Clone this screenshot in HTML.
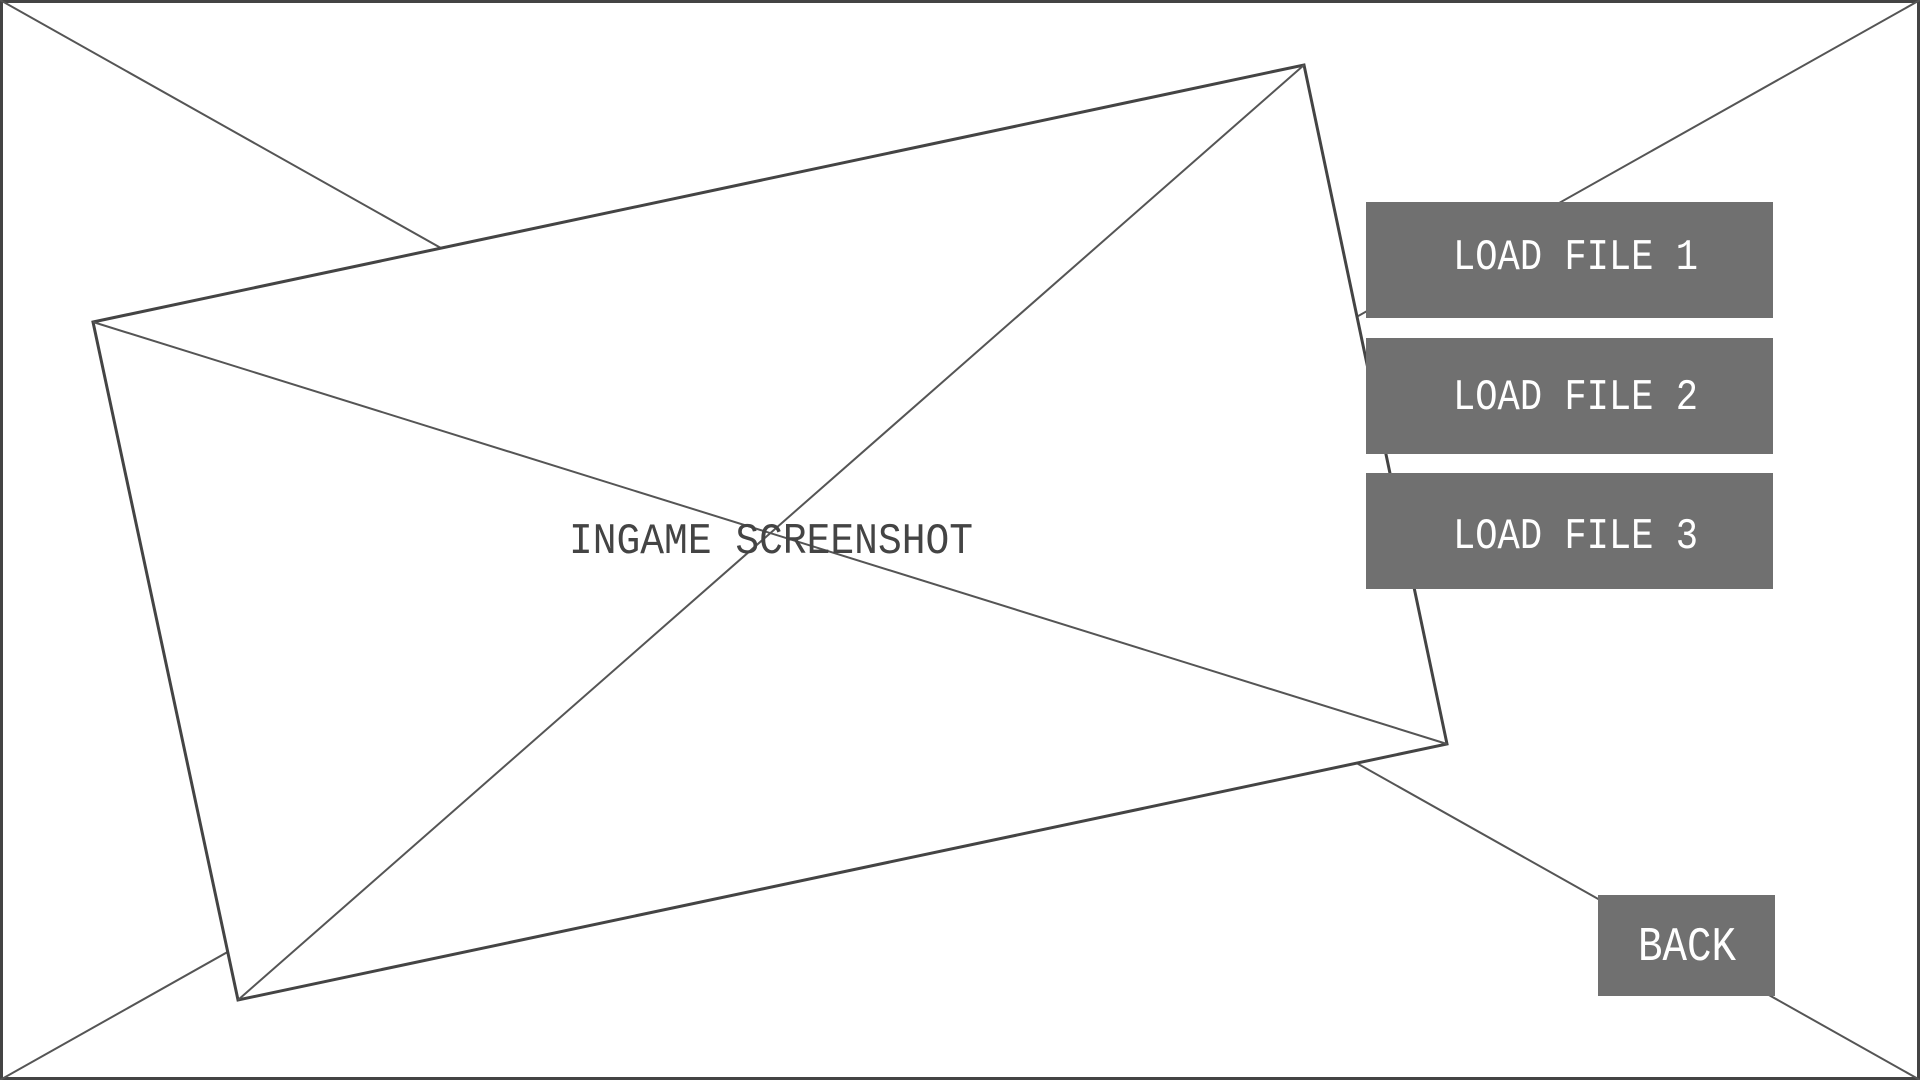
<!DOCTYPE html>
<html><head><meta charset="utf-8"><style>
html,body{margin:0;padding:0;background:#fff;width:1920px;height:1080px;overflow:hidden}
svg{display:block}
.t{font-family:"Liberation Mono",monospace;fill:#fff}
</style></head><body>
<svg width="1920" height="1080" viewBox="0 0 1920 1080">
  <rect x="1.5" y="1.5" width="1917" height="1077" fill="#fff" stroke="#444" stroke-width="3"/>
  <line x1="0" y1="0" x2="1920" y2="1080" stroke="#555" stroke-width="2"/>
  <line x1="1920" y1="0" x2="0" y2="1080" stroke="#555" stroke-width="2"/>
  <g>
    <polygon points="93,322 1304,65 1447,744 238,1000" fill="#fff" stroke="#444" stroke-width="3"/>
    <line x1="93" y1="322" x2="1447" y2="744" stroke="#555" stroke-width="2"/>
    <line x1="1304" y1="65" x2="238" y2="1000" stroke="#555" stroke-width="2"/>
    <text x="569" y="553" textLength="404" lengthAdjust="spacingAndGlyphs" font-family="Liberation Mono, monospace" font-size="44" fill="#444">INGAME SCREENSHOT</text>
  </g>
  <g>
    <rect x="1366" y="202" width="407" height="116" fill="#707070"/>
    <text class="t" x="1453" y="269" textLength="245" lengthAdjust="spacingAndGlyphs" font-size="44">LOAD FILE 1</text>
  </g>
  <g>
    <rect x="1366" y="338" width="407" height="116" fill="#707070"/>
    <text class="t" x="1453" y="409" textLength="245" lengthAdjust="spacingAndGlyphs" font-size="44">LOAD FILE 2</text>
  </g>
  <g>
    <rect x="1366" y="473" width="407" height="116" fill="#707070"/>
    <text class="t" x="1453" y="548" textLength="245" lengthAdjust="spacingAndGlyphs" font-size="44">LOAD FILE 3</text>
  </g>
  <g>
    <rect x="1598" y="895" width="177" height="101" fill="#707070"/>
    <text class="t" x="1638" y="960" textLength="98" lengthAdjust="spacingAndGlyphs" font-size="48">BACK</text>
  </g>
</svg>
</body></html>
